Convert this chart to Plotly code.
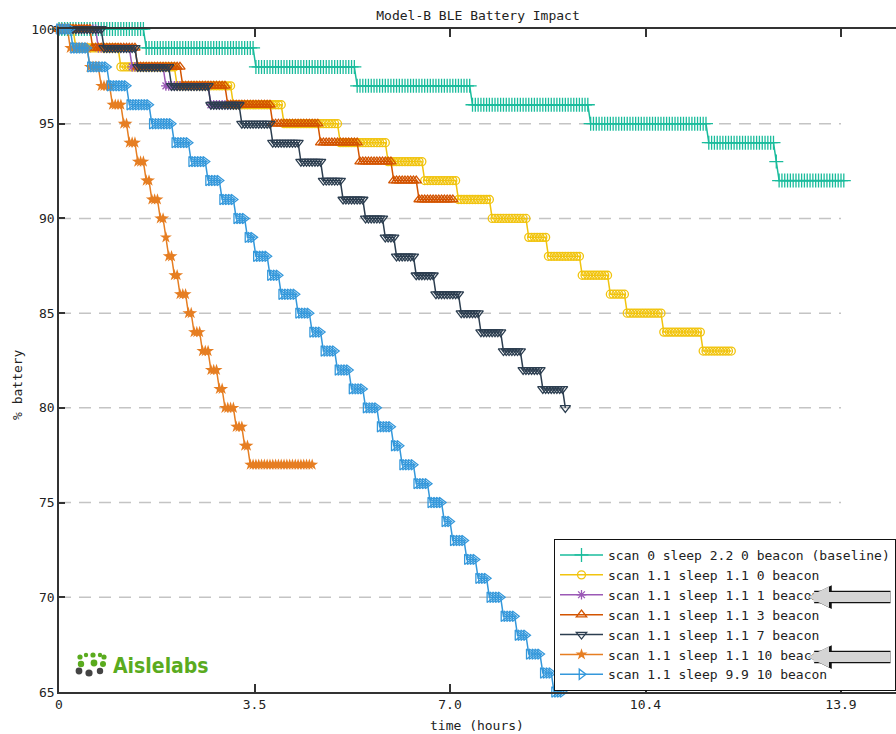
import numpy as np
import plotly.graph_objects as go

# ---------------- data ----------------
SAMPLE_MINUTES = 3  # battery logging interval

SERIES_NAMES = [
    "scan 0 sleep 2.2 0 beacon (baseline)",
    "scan 1.1 sleep 1.1 0 beacon",
    "scan 1.1 sleep 1.1 1 beacon",
    "scan 1.1 sleep 1.1 3 beacon",
    "scan 1.1 sleep 1.1 7 beacon",
    "scan 1.1 sleep 1.1 10 beacon",
    "scan 1.1 sleep 9.9 10 beacon",
]

# run-length encoded readings: battery level and number of consecutive samples at that level
BASELINE_LEVELS = [100, 99, 98, 97, 96, 95, 94, 93, 92]
BASELINE_COUNTS = [31, 39, 36, 41, 42, 42, 24, 1, 24]

B0_LEVELS = [100, 99, 98, 97, 96, 95, 94, 93, 92, 91, 90, 89, 88, 87, 86, 85, 84, 83]
B0_COUNTS = [6, 16, 20, 20, 18, 20, 17, 13, 12, 12, 13, 7, 12, 10, 6, 13, 14, 11]

B1_LEVELS = [100, 99, 98, 97, 96]
B1_COUNTS = [14, 12, 12, 16, 11]

B3_LEVELS = [100, 99, 98, 97, 96, 95, 94, 93, 92, 91]
B3_COUNTS = [12, 16, 16, 16, 16, 17, 14, 12, 9, 13]

B7_LEVELS = [100, 99, 98, 97, 96, 95, 94, 93, 92, 91, 90, 89, 88, 87, 86, 85, 84, 83, 82, 81, 80]
B7_COUNTS = [16, 12, 12, 14, 11, 11, 10, 8, 7, 8, 7, 4, 7, 7, 9, 7, 8, 7, 7, 8, 1]

B10_LEVELS = [100, 99, 98, 97, 96, 95, 94, 93, 92, 91, 90, 89, 88, 87, 86, 85, 84, 83, 82, 81,
              80, 79, 78, 77]
B10_COUNTS = [4, 7, 4, 4, 4, 2, 3, 3, 2, 3, 2, 1, 2, 2, 3, 2, 3, 3, 3, 2, 4, 3, 2, 23]

S99_LEVELS = [100, 99, 98, 97, 96, 95, 94, 93, 92, 91, 90, 89, 88, 87, 86, 85, 84, 83, 82, 81,
              80, 79, 78, 77, 76, 75, 74, 73, 72, 71, 70, 69, 68, 67, 66, 65]
S99_COUNTS = [5, 6, 7, 7, 8, 8, 6, 6, 5, 5, 4, 3, 5, 4, 6, 5, 4, 5, 5, 5,
              5, 5, 3, 5, 5, 5, 3, 5, 4, 4, 5, 5, 4, 5, 4, 4]

RUNS = [
    (BASELINE_LEVELS, BASELINE_COUNTS),
    (B0_LEVELS, B0_COUNTS),
    (B1_LEVELS, B1_COUNTS),
    (B3_LEVELS, B3_COUNTS),
    (B7_LEVELS, B7_COUNTS),
    (B10_LEVELS, B10_COUNTS),
    (S99_LEVELS, S99_COUNTS),
]

X_TICKS = [0, 3.475, 6.95, 10.425, 13.9]
X_TICK_TEXT = ["0", "3.5", "7.0", "10.4", "13.9"]
Y_TICKS = [65, 70, 75, 80, 85, 90, 95, 100]
GRID_Y = [70, 75, 80, 85, 90, 95]

# ---------------- styles ----------------
COLORS = ["#1abc9c", "#f1c40f", "#9b59b6", "#d35400", "#2c3e50", "#e67e22", "#3498db"]
SYMBOLS = ["cross-thin-open", "circle-open", "asterisk-open", "triangle-up-open",
           "triangle-down-open", "star", "triangle-right-open"]
SIZES = [10, 8, 8, 9, 9, 9, 9]
FONT = "DejaVu Sans Mono, monospace"
TXT = dict(family=FONT, size=13, color="#222222")

W, H = 896, 734
ML, MR, MT, MB = 59, 0, 29, 42
PW, PH = W - ML - MR, H - MT - MB
X_MAX = 13.9 * PW / (841 - 59)


def px(x):
    return (x - ML) / PW


def py(y):
    return (H - MB - y) / PH


fig = go.Figure()
for name, (levels, counts), c, s, sz in zip(SERIES_NAMES, RUNS, COLORS, SYMBOLS, SIZES):
    vals = np.repeat(levels, counts)
    hours = np.arange(len(vals)) * SAMPLE_MINUTES / 60.0
    filled = s == "star"
    fig.add_trace(go.Scatter(
        x=hours, y=vals, name=name, mode="lines+markers", cliponaxis=False,
        line=dict(color=c, width=1.5),
        marker=dict(symbol=s, size=sz, color=c,
                    line=dict(color=c, width=0 if filled else 1.3)),
    ))

shapes = []
for g in GRID_Y:
    shapes.append(dict(type="line", xref="x", yref="y", x0=0, x1=X_TICKS[-1], y0=g, y1=g,
                       line=dict(color="#c4c4c4", width=1.5, dash="12px,8px"), layer="below"))

# logo icon (people dots)
for (cx, cy, r, col) in [
    (80, 657, 2.6, "#5aab1e"), (86, 655, 2.2, "#5aab1e"), (93, 655, 2.6, "#5aab1e"),
    (100, 655, 2.2, "#5aab1e"), (104, 657, 2.6, "#5aab1e"),
    (81, 664, 3.2, "#5aab1e"), (94, 663, 3.4, "#5aab1e"), (103, 664, 3.0, "#5aab1e"),
    (79, 671, 3.4, "#444444"), (89, 673, 3.6, "#444444"), (100, 671, 3.2, "#444444"),
]:
    shapes.append(dict(type="circle", xref="paper", yref="paper",
                       x0=px(cx - r), x1=px(cx + r), y0=py(cy + r), y1=py(cy - r),
                       fillcolor=col, line=dict(width=0), layer="above"))

annotations = [
    dict(text="Aislelabs", xref="paper", yref="paper", x=px(111), y=py(666),
         xanchor="left", yanchor="middle", showarrow=False,
         font=dict(family="DejaVu Sans Condensed, DejaVu Sans, sans-serif",
                   size=21, color="#5aab1e", weight="bold")),
    dict(text="time (hours)", xref="paper", yref="paper", x=px(477), y=py(725),
         xanchor="center", yanchor="middle", showarrow=False, font=TXT),
    dict(text="% battery", xref="paper", yref="paper", x=px(17), y=py(385),
         xanchor="center", yanchor="middle", showarrow=False, textangle=-90, font=TXT),
]
# block arrows pointing at the legend entries
for ty in [597, 657]:
    annotations.append(dict(text=" ", xref="paper", yref="paper", x=px(808), y=py(ty),
                            ax=110, ay=0, showarrow=True, arrowhead=2, arrowwidth=12.5,
                            arrowsize=0.38, arrowcolor="#111111", standoff=0))
    annotations.append(dict(text=" ", xref="paper", yref="paper", x=px(808), y=py(ty),
                            ax=110, ay=0, showarrow=True, arrowhead=2, arrowwidth=10,
                            arrowsize=0.42, arrowcolor="#d4d4d4", standoff=0))

fig.update_layout(
    width=W, height=H,
    margin=dict(l=ML, r=MR, t=MT, b=MB),
    paper_bgcolor="white", plot_bgcolor="white",
    font=TXT,
    title=dict(text="Model-B BLE Battery Impact", x=px(478), xref="paper",
               y=1 - 15 / H, yref="container", xanchor="center", yanchor="middle",
               font=TXT),
    xaxis=dict(range=[0, X_MAX], tickvals=X_TICKS, ticktext=X_TICK_TEXT,
               ticks="inside", ticklen=8, tickwidth=1.5, tickcolor="#333333",
               showline=True, linecolor="#333333", linewidth=1.5, mirror="ticks",
               showgrid=False, zeroline=False, automargin=False, tickfont=TXT),
    yaxis=dict(range=[65, 100], tickvals=Y_TICKS,
               ticks="inside", ticklen=6, tickwidth=1.5, tickcolor="#333333",
               showline=True, linecolor="#333333", linewidth=1.5,
               showgrid=False, zeroline=False, automargin=False, tickfont=TXT),
    legend=dict(x=1, xanchor="right", y=py(691), yanchor="bottom",
                bgcolor="white", bordercolor="#111111", borderwidth=1,
                font=TXT, tracegroupgap=0, itemwidth=43),
    shapes=shapes,
    annotations=annotations,
    showlegend=True,
)

fig.write_html("out.html", config={"displayModeBar": False},
               post_script="document.body.style.margin='0px';")
